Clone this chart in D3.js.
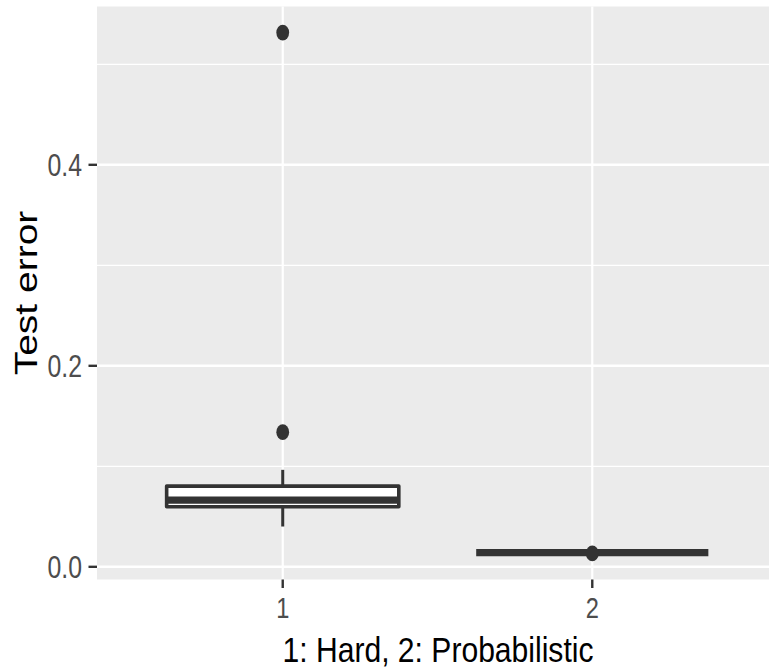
<!DOCTYPE html>
<html>
<head>
<meta charset="utf-8">
<script src="https://cdn.jsdelivr.net/npm/d3@7"></script>
<style>
  body { margin: 0; background: #fff; }
  text { font-family: "Liberation Sans", Arial, sans-serif; }
</style>
</head>
<body>
<svg id="chart" width="769" height="670"></svg>
<script>
// box statistics
const groups = ["1", "2"];
const boxStats = [
    {group: 1, lower: 0.0401, q1: 0.0597, median: 0.0664, q3: 0.0803, upper: 0.0965},
    {group: 2, lower: 0.0141, q1: 0.0141, median: 0.0141, q3: 0.0141, upper: 0.0141}
];
const outliers = [
    {group: 1, value: 0.5316},
    {group: 1, value: 0.1340},
    {group: 2, value: 0.0133}
];
const yTicks = [0.0, 0.2, 0.4];
const yMinor = [0.1, 0.3, 0.5];
const xTitle = "1: Hard, 2: Probabilistic";
const yTitle = "Test error";

const svg = d3.select("#chart");
const panel = {left: 97, top: 6.5, right: 778, bottom: 579.5};
// picture looks squeezed horizontally
const squeeze = 0.8;

// y domain with ggplot style 5% expansion
const allVals = boxStats.flatMap(d => [d.lower, d.upper]).concat(outliers.map(d => d.value));
const ext = d3.extent(allVals);
const pad = (ext[1] - ext[0]) * 0.05;
const y = d3.scaleLinear().domain([ext[0] - pad, ext[1] + pad]).range([panel.bottom, panel.top]);
const x = d3.scaleLinear().domain([0.4, 2.6]).range([panel.left, panel.right]);
const boxW = x(0.75) - x(0);

// panel background and grid
svg.append("rect")
    .attr("x", panel.left).attr("y", panel.top)
    .attr("width", panel.right - panel.left).attr("height", panel.bottom - panel.top)
    .attr("fill", "#EBEBEB");

const grid = svg.append("g");
grid.selectAll(".minor").data(yMinor).enter().append("line")
    .attr("class", "minor")
    .attr("x1", panel.left).attr("x2", panel.right)
    .attr("y1", d => y(d)).attr("y2", d => y(d))
    .attr("stroke", "#fff").attr("stroke-width", 1.3);
grid.selectAll(".major").data(yTicks).enter().append("line")
    .attr("class", "major")
    .attr("x1", panel.left).attr("x2", panel.right)
    .attr("y1", d => y(d)).attr("y2", d => y(d))
    .attr("stroke", "#fff").attr("stroke-width", 2.6);
grid.selectAll(".xmajor").data(groups).enter().append("line")
    .attr("class", "xmajor")
    .attr("x1", d => x(+d)).attr("x2", d => x(+d))
    .attr("y1", panel.top).attr("y2", panel.bottom)
    .attr("stroke", "#fff").attr("stroke-width", 2.2);

// boxes
const boxes = svg.append("g").selectAll("g").data(boxStats).enter().append("g");
boxes.append("line")
    .attr("x1", d => x(d.group)).attr("x2", d => x(d.group))
    .attr("y1", d => y(d.upper)).attr("y2", d => y(d.q3))
    .attr("stroke", "#333").attr("stroke-width", 3);
boxes.append("line")
    .attr("x1", d => x(d.group)).attr("x2", d => x(d.group))
    .attr("y1", d => y(d.q1)).attr("y2", d => y(d.lower))
    .attr("stroke", "#333").attr("stroke-width", 3);
boxes.append("rect")
    .attr("x", d => x(d.group) - boxW / 2).attr("width", boxW)
    .attr("y", d => y(d.q3)).attr("height", d => y(d.q1) - y(d.q3))
    .attr("fill", "#fff").attr("stroke", "#333").attr("stroke-width", 3.6)
    .attr("stroke-linejoin", "round");
boxes.append("line")
    .attr("x1", d => x(d.group) - boxW / 2).attr("x2", d => x(d.group) + boxW / 2)
    .attr("y1", d => y(d.median)).attr("y2", d => y(d.median))
    .attr("stroke", "#333").attr("stroke-width", 7.2)
    .attr("stroke-linecap", "butt");

svg.append("g").selectAll("ellipse").data(outliers).enter().append("ellipse")
    .attr("cx", d => x(d.group)).attr("cy", d => y(d.value))
    .attr("rx", 6.4).attr("ry", 7.9)
    .attr("fill", "#333");

// axes ticks
const axisCol = "#333";
const yAx = svg.append("g");
yAx.selectAll("line").data(yTicks).enter().append("line")
    .attr("x1", panel.left - 8.5).attr("x2", panel.left)
    .attr("y1", d => y(d)).attr("y2", d => y(d))
    .attr("stroke", axisCol).attr("stroke-width", 2.4);
yAx.selectAll("text").data(yTicks).enter().append("text")
    .attr("transform", d => `translate(${panel.left - 15},${y(d) + 11}) scale(${squeeze},1)`)
    .attr("text-anchor", "end")
    .attr("font-size", 31)
    .attr("fill", "#4D4D4D")
    .text(d => d3.format(".1f")(d));

const xAx = svg.append("g");
xAx.selectAll("line").data(groups).enter().append("line")
    .attr("x1", d => x(+d)).attr("x2", d => x(+d))
    .attr("y1", panel.bottom).attr("y2", panel.bottom + 8.5)
    .attr("stroke", axisCol).attr("stroke-width", 2.4);
xAx.selectAll("text").data(groups).enter().append("text")
    .attr("transform", d => `translate(${x(+d)},${618}) scale(${squeeze},1)`)
    .attr("text-anchor", "middle")
    .attr("font-size", 29.5)
    .attr("fill", "#4D4D4D")
    .text(d => d);

// titles
svg.append("text")
    .attr("transform", `translate(${(x(1) + x(2)) / 2 + 0.5},${662}) scale(0.86,1)`)
    .attr("text-anchor", "middle")
    .attr("font-size", 35)
    .attr("fill", "#000")
    .text(xTitle);

svg.append("text")
    .attr("transform", `translate(${37},${(panel.top + panel.bottom) / 2}) scale(${squeeze},1) rotate(-90)`)
    .attr("text-anchor", "middle")
    .attr("font-size", 39)
    .attr("fill", "#000")
    .text(yTitle);
</script>
</body>
</html>
